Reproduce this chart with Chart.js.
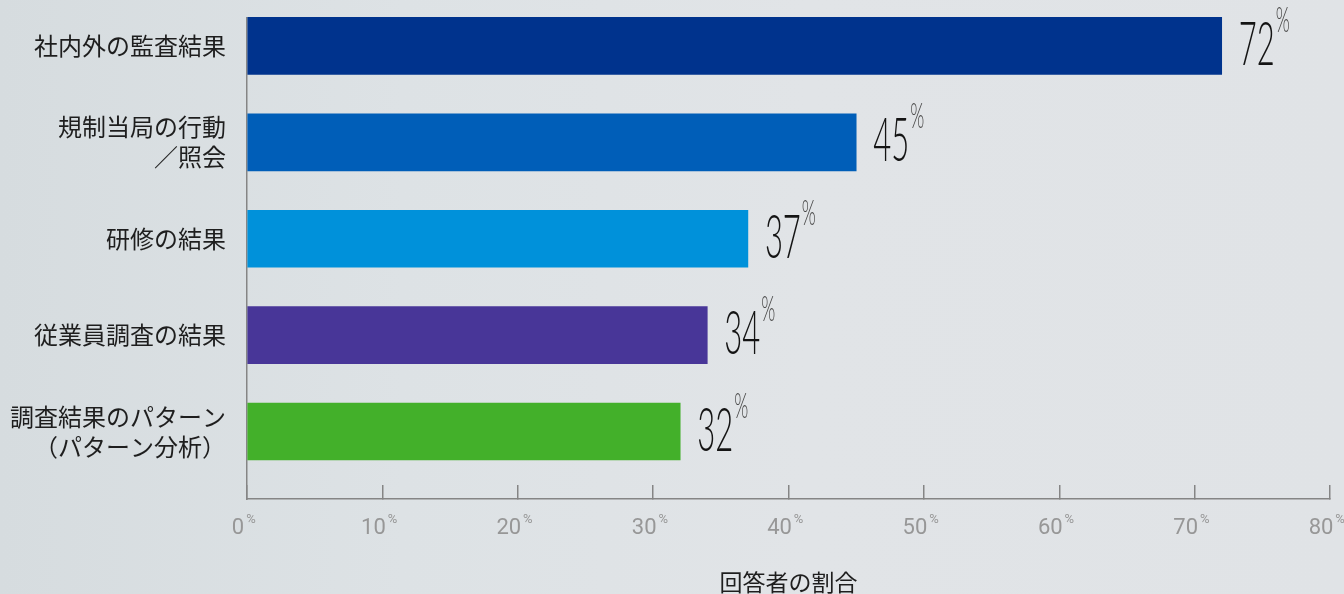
<!DOCTYPE html>
<html lang="ja">
<head>
<meta charset="utf-8">
<script src="https://cdn.jsdelivr.net/npm/chart.js@4"></script>
<style>
  html, body { margin: 0; padding: 0; }
  body {
    width: 1344px; height: 594px; overflow: hidden;
    background: linear-gradient(90deg, #d6dcdf 0%, #dde2e5 30%, #e1e4e7 60%, #e0e3e6 100%);
  }
  #wrap { position: relative; width: 1344px; height: 594px; }
</style>
</head>
<body>
<div id="wrap"><canvas id="chart"></canvas></div>
<script>
// Share of respondents by source of information (horizontal bars).
const categories = [
  ["社内外の監査結果"],
  ["規制当局の行動", "／照会"],
  ["研修の結果"],
  ["従業員調査の結果"],
  ["調査結果のパターン", "（パターン分析）"],
];
const shares = [72, 45, 37, 34, 32];
const barColors = ["#00338d", "#005eb8", "#0091da", "#483698", "#43b02a"];
const xTicks = [0, 10, 20, 30, 40, 50, 60, 70, 80];
const axisTitle = "回答者の割合";

const AXIS_GREY = "#858585";
const TICK_GREY = "#979797";
const LABEL_SHIFT = -9;

// Big condensed value labels next to each bar, with a small raised "%".
const valueLabels = {
  id: "valueLabels",
  afterDatasetsDraw(chart) {
    const ctx = chart.ctx;
    const sx = 0.5;
    chart.getDatasetMeta(0).data.forEach((bar, i) => {
      const num = String(shares[i]);
      ctx.save();
      ctx.textBaseline = "alphabetic";
      ctx.textAlign = "left";
      ctx.translate(bar.x + 17, bar.y + 19);
      ctx.scale(sx, 1);
      ctx.font = "300 62px Lato";
      ctx.fillStyle = "#141414";
      ctx.fillText(num, 0, 0);
      const w = ctx.measureText(num).width;
      ctx.font = "300 36px Lato";
      ctx.fillStyle = "#4a4a4a";
      ctx.fillText("%", w + 1 / sx, -33);
      ctx.restore();
    });
  },
};

// Small superscript "%" after each x tick number.
const tickPercent = {
  id: "tickPercent",
  afterDraw(chart) {
    const ctx = chart.ctx;
    const xs = chart.scales.x;
    ctx.save();
    xs.ticks.forEach((t, i) => {
      const px = xs.getPixelForTick(i);
      ctx.font = "22px Roboto";
      const w = ctx.measureText(String(t.value)).width;
      ctx.font = "13px Roboto";
      ctx.fillStyle = TICK_GREY;
      ctx.textBaseline = "alphabetic";
      ctx.textAlign = "left";
      ctx.fillText("%", px + LABEL_SHIFT + w / 2 + 2, 523);
    });
    ctx.restore();
  },
};

const noPadding = (s) => {
  s.paddingTop = 0; s.paddingBottom = 0; s.paddingLeft = 0; s.paddingRight = 0;
};

new Chart(document.getElementById("chart"), {
  type: "bar",
  data: {
    datasets: [{
      data: shares.map((v, i) => ({ x: v, y: i })),
      backgroundColor: barColors,
      barThickness: 57,
      clip: false,
    }],
  },
  options: {
    indexAxis: "y",
    responsive: true,
    maintainAspectRatio: false,
    animation: false,
    layout: { padding: { top: 18, right: 14, left: 0, bottom: 0 } },
    plugins: { legend: { display: false }, tooltip: { enabled: false } },
    scales: {
      y: {
        type: "linear",
        reverse: true,
        offset: false,
        min: -0.29,
        max: 4.7,
        afterBuildTicks: (s) => { s.ticks = categories.map((_, i) => ({ value: i })); },
        afterFit: (s) => { s.width = 247; noPadding(s); },
        grid: { display: false, drawTicks: false },
        border: { display: true, color: AXIS_GREY, width: 1.5 },
        ticks: {
          callback: (v) => categories[v],
          color: "#1e1e1e",
          padding: 21,
          font: { family: "'Noto Sans CJK JP', sans-serif", size: 24, lineHeight: 1.25 },
        },
      },
      x: {
        type: "linear",
        min: 0,
        max: 80,
        afterBuildTicks: (s) => { s.ticks = xTicks.map((v) => ({ value: v })); },
        afterFit: (s) => { s.height = 95; noPadding(s); },
        grid: { drawOnChartArea: false, drawTicks: true, tickLength: -14, color: AXIS_GREY, lineWidth: 1.5 },
        border: { display: true, color: AXIS_GREY, width: 1.5 },
        ticks: {
          callback: (v) => String(v),
          color: TICK_GREY,
          padding: 30,
          labelOffset: LABEL_SHIFT,
          maxRotation: 0,
          font: { family: "Roboto", size: 22, lineHeight: 1.2 },
        },
        title: {
          display: true,
          text: axisTitle,
          color: "#1e1e1e",
          padding: { top: 0, bottom: 0 },
          font: { family: "'Noto Sans CJK JP', sans-serif", size: 23, lineHeight: 1.0 },
        },
      },
    },
  },
  plugins: [valueLabels, tickPercent],
});
</script>
</body>
</html>
